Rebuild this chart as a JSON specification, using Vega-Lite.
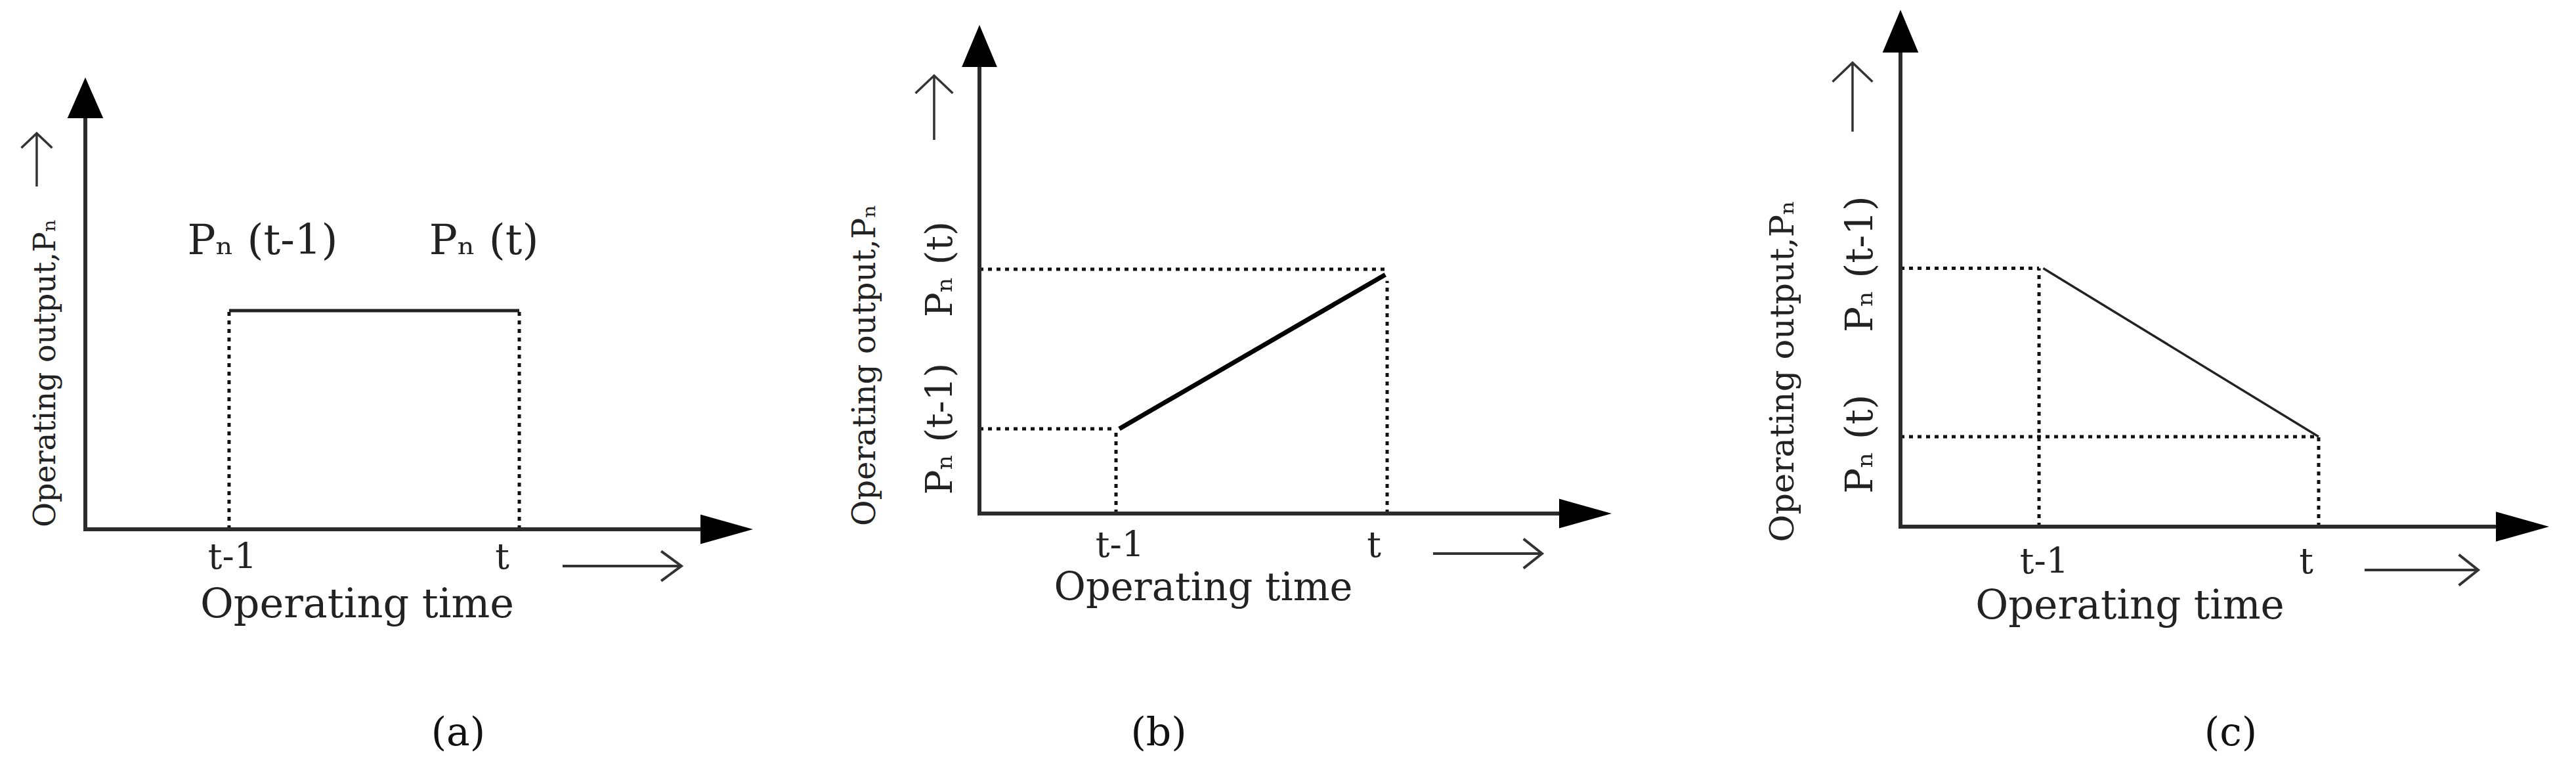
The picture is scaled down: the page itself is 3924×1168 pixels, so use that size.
{
  "$schema": "https://vega.github.io/schema/vega-lite/v6.json",
  "background": "white",
  "padding": 0,
  "spacing": 0,
  "config": {"view": {"stroke": null}},
  "datasets": {
    "lines": [
      {"panel": "a", "role": "axis", "x": 0, "y": 0, "x2": 0, "y2": 95},
      {"panel": "a", "role": "axis", "x": 0, "y": 0, "x2": 95, "y2": 0},
      {"panel": "a", "role": "solid", "x": 21.53, "y": 48.4, "x2": 65.0, "y2": 48.4},
      {"panel": "a", "role": "dotted", "x": 21.53, "y": 0, "x2": 21.53, "y2": 48.4},
      {"panel": "a", "role": "dotted", "x": 65.0, "y": 0, "x2": 65.0, "y2": 48.4},
      {"panel": "b", "role": "axis", "x": 0, "y": 0, "x2": 0, "y2": 95},
      {"panel": "b", "role": "axis", "x": 0, "y": 0, "x2": 95, "y2": 0},
      {"panel": "b", "role": "solid", "x": 22.12, "y": 17.34, "x2": 64.2, "y2": 48.9},
      {"panel": "b", "role": "dotted", "x": 0, "y": 50.0, "x2": 64.2, "y2": 50.0},
      {"panel": "b", "role": "dotted", "x": 0, "y": 17.34, "x2": 21.6, "y2": 17.34},
      {"panel": "b", "role": "dotted", "x": 21.6, "y": 0, "x2": 21.6, "y2": 17.34},
      {"panel": "b", "role": "dotted", "x": 64.49, "y": 0, "x2": 64.49, "y2": 47.6},
      {"panel": "c", "role": "axis", "x": 0, "y": 0, "x2": 0, "y2": 95},
      {"panel": "c", "role": "axis", "x": 0, "y": 0, "x2": 95, "y2": 0},
      {"panel": "c", "role": "solid", "x": 22.0, "y": 50.0, "x2": 64.47, "y2": 17.41},
      {"panel": "c", "role": "dotted", "x": 0, "y": 50.0, "x2": 21.36, "y2": 50.0},
      {"panel": "c", "role": "dotted", "x": 21.36, "y": 0, "x2": 21.36, "y2": 50.0},
      {"panel": "c", "role": "dotted", "x": 0, "y": 17.41, "x2": 64.47, "y2": 17.41},
      {"panel": "c", "role": "dotted", "x": 64.47, "y": 0, "x2": 64.47, "y2": 17.41}
    ],
    "points": [
      {"panel": "a", "role": "headUp", "x": 0, "y": 100},
      {"panel": "a", "role": "headRight", "x": 100, "y": 0},
      {"panel": "a", "role": "thinUp", "x": -7.28, "y": 81.76},
      {"panel": "a", "role": "thinRight", "x": 80.38, "y": -8.14},
      {"panel": "b", "role": "headUp", "x": 0, "y": 100},
      {"panel": "b", "role": "headRight", "x": 100, "y": 0},
      {"panel": "b", "role": "thinUp", "x": -7.17, "y": 83.06},
      {"panel": "b", "role": "thinRight", "x": 80.37, "y": -8.2},
      {"panel": "c", "role": "headUp", "x": 0, "y": 100},
      {"panel": "c", "role": "headRight", "x": 100, "y": 0},
      {"panel": "c", "role": "thinUp", "x": -7.39, "y": 83.1},
      {"panel": "c", "role": "thinRight", "x": 80.31, "y": -8.39}
    ],
    "texts": [
      {"panel": "a", "role": "plabel", "text": "Pₙ (t-1)", "x": 26.55, "y": 60.9},
      {"panel": "a", "role": "plabel", "text": "Pₙ (t)", "x": 59.69, "y": 60.9},
      {"panel": "a", "role": "tick", "text": "t-1", "x": 22.03, "y": -8.72},
      {"panel": "a", "role": "tick", "text": "t", "x": 62.44, "y": -8.72},
      {"panel": "a", "role": "xtitle", "text": "Operating time", "x": 40.71, "y": -19.48},
      {"panel": "a", "role": "caption", "text": "(a)", "x": 55.85, "y": -47.8},
      {"panel": "a", "role": "ytitle", "text": "Operating output,Pₙ", "x": -5.9, "y": 34.6},
      {"panel": "b", "role": "tick", "text": "t-1", "x": 22.22, "y": -8.87},
      {"panel": "b", "role": "tick", "text": "t", "x": 62.41, "y": -8.87},
      {"panel": "b", "role": "xtitle", "text": "Operating time", "x": 35.41, "y": -17.74},
      {"panel": "b", "role": "caption", "text": "(b)", "x": 28.35, "y": -47.45},
      {"panel": "b", "role": "ylabel", "text": "Pₙ (t)", "x": -6.13, "y": 50.0},
      {"panel": "b", "role": "ylabel", "text": "Pₙ (t-1)", "x": -6.13, "y": 17.34},
      {"panel": "b", "role": "ytitle", "text": "Operating output,Pₙ", "x": -17.96, "y": 30.38},
      {"panel": "c", "role": "tick", "text": "t-1", "x": 22.17, "y": -9.02},
      {"panel": "c", "role": "tick", "text": "t", "x": 62.55, "y": -9.02},
      {"panel": "c", "role": "xtitle", "text": "Operating time", "x": 35.37, "y": -17.79},
      {"panel": "c", "role": "caption", "text": "(c)", "x": 50.91, "y": -42.31},
      {"panel": "c", "role": "ylabel", "text": "Pₙ (t-1)", "x": -6.07, "y": 50.8},
      {"panel": "c", "role": "ylabel", "text": "Pₙ (t)", "x": -6.07, "y": 16.0},
      {"panel": "c", "role": "ytitle", "text": "Operating output,Pₙ", "x": -18.02, "y": 30.1}
    ]
  },
  "hconcat": [
    {
      "width": 1250,
      "height": 1168,
      "encoding": {
        "x": {"field": "x", "type": "quantitative", "scale": {"domain": [-12.78, 110.13], "nice": false, "zero": false}, "axis": null},
        "y": {"field": "y", "type": "quantitative", "scale": {"domain": [-52.62, 117.15], "nice": false, "zero": false}, "axis": null}
      },
      "layer": [
        {"data": {"name": "lines"}, "transform": [{"filter": "datum.panel == 'a' && datum.role == 'dotted'"}], "mark": {"type": "rule", "strokeWidth": 5, "strokeDash": [6, 7], "color": "#111111"}, "encoding": {"x2": {"field": "x2"}, "y2": {"field": "y2"}}},
        {"data": {"name": "lines"}, "transform": [{"filter": "datum.panel == 'a' && datum.role == 'axis'"}], "mark": {"type": "rule", "strokeWidth": 6, "strokeCap": "square", "color": "#2b2b2b"}, "encoding": {"x2": {"field": "x2"}, "y2": {"field": "y2"}}},
        {"data": {"name": "lines"}, "transform": [{"filter": "datum.panel == 'a' && datum.role == 'solid'"}], "mark": {"type": "rule", "strokeWidth": 5, "color": "#222222"}, "encoding": {"x2": {"field": "x2"}, "y2": {"field": "y2"}}},
        {"data": {"name": "points"}, "transform": [{"filter": "datum.panel == 'a' && datum.role == 'headUp'"}], "mark": {"type": "point", "shape": "M0,0L-0.44,1L0.44,1Z", "size": 15376, "filled": true, "opacity": 1, "color": "#000000", "strokeWidth": 0}},
        {"data": {"name": "points"}, "transform": [{"filter": "datum.panel == 'a' && datum.role == 'headRight'"}], "mark": {"type": "point", "shape": "M0,0L-1,-0.28L-1,0.28Z", "size": 25600, "filled": true, "opacity": 1, "color": "#000000", "strokeWidth": 0}},
        {"data": {"name": "points"}, "transform": [{"filter": "datum.panel == 'a' && datum.role == 'thinUp'"}], "mark": {"type": "point", "shape": "M0,1L0,-1M-0.58,-0.45L0,-1L0.58,-0.45", "size": 6561, "filled": false, "opacity": 1, "color": "#333333", "strokeWidth": 3.5}},
        {"data": {"name": "points"}, "transform": [{"filter": "datum.panel == 'a' && datum.role == 'thinRight'"}], "mark": {"type": "point", "shape": "M-1,0L1,0M0.66,-0.25L1,0L0.66,0.25", "size": 32761, "filled": false, "opacity": 1, "color": "#333333", "strokeWidth": 4}},
        {"data": {"name": "texts"}, "transform": [{"filter": "datum.panel == 'a' && datum.role == 'plabel'"}], "mark": {"type": "text", "font": "DejaVu Serif", "fontSize": 64, "align": "center", "baseline": "alphabetic", "color": "#222222"}, "encoding": {"text": {"field": "text"}}},
        {"data": {"name": "texts"}, "transform": [{"filter": "datum.panel == 'a' && datum.role == 'tick'"}], "mark": {"type": "text", "font": "DejaVu Serif", "fontSize": 54, "align": "center", "baseline": "alphabetic", "color": "#222222"}, "encoding": {"text": {"field": "text"}}},
        {"data": {"name": "texts"}, "transform": [{"filter": "datum.panel == 'a' && datum.role == 'xtitle'"}], "mark": {"type": "text", "font": "DejaVu Serif", "fontSize": 62, "align": "center", "baseline": "alphabetic", "color": "#222222"}, "encoding": {"text": {"field": "text"}}},
        {"data": {"name": "texts"}, "transform": [{"filter": "datum.panel == 'a' && datum.role == 'caption'"}], "mark": {"type": "text", "font": "DejaVu Serif", "fontSize": 60, "align": "center", "baseline": "alphabetic", "color": "#111111"}, "encoding": {"text": {"field": "text"}}},
        {"data": {"name": "texts"}, "transform": [{"filter": "datum.panel == 'a' && datum.role == 'ytitle'"}], "mark": {"type": "text", "font": "DejaVu Serif", "fontSize": 46, "angle": 270, "align": "center", "baseline": "middle", "color": "#222222"}, "encoding": {"text": {"field": "text"}}}
      ]
    },
    {
      "width": 1330,
      "height": 1168,
      "encoding": {
        "x": {"field": "x", "type": "quantitative", "scale": {"domain": [-25.13, 112.98], "nice": false, "zero": false}, "axis": null},
        "y": {"field": "y", "type": "quantitative", "scale": {"domain": [-51.88, 105.11], "nice": false, "zero": false}, "axis": null}
      },
      "layer": [
        {"data": {"name": "lines"}, "transform": [{"filter": "datum.panel == 'b' && datum.role == 'dotted'"}], "mark": {"type": "rule", "strokeWidth": 5, "strokeDash": [6, 7], "color": "#111111"}, "encoding": {"x2": {"field": "x2"}, "y2": {"field": "y2"}}},
        {"data": {"name": "lines"}, "transform": [{"filter": "datum.panel == 'b' && datum.role == 'axis'"}], "mark": {"type": "rule", "strokeWidth": 6, "strokeCap": "square", "color": "#2b2b2b"}, "encoding": {"x2": {"field": "x2"}, "y2": {"field": "y2"}}},
        {"data": {"name": "lines"}, "transform": [{"filter": "datum.panel == 'b' && datum.role == 'solid'"}], "mark": {"type": "rule", "strokeWidth": 7, "color": "#000000"}, "encoding": {"x2": {"field": "x2"}, "y2": {"field": "y2"}}},
        {"data": {"name": "points"}, "transform": [{"filter": "datum.panel == 'b' && datum.role == 'headUp'"}], "mark": {"type": "point", "shape": "M0,0L-0.42,1L0.42,1Z", "size": 16384, "filled": true, "opacity": 1, "color": "#000000", "strokeWidth": 0}},
        {"data": {"name": "points"}, "transform": [{"filter": "datum.panel == 'b' && datum.role == 'headRight'"}], "mark": {"type": "point", "shape": "M0,0L-1,-0.28L-1,0.28Z", "size": 25600, "filled": true, "opacity": 1, "color": "#000000", "strokeWidth": 0}},
        {"data": {"name": "points"}, "transform": [{"filter": "datum.panel == 'b' && datum.role == 'thinUp'"}], "mark": {"type": "point", "shape": "M0,1L0,-1M-0.58,-0.45L0,-1L0.58,-0.45", "size": 9604, "filled": false, "opacity": 1, "color": "#333333", "strokeWidth": 3.5}},
        {"data": {"name": "points"}, "transform": [{"filter": "datum.panel == 'b' && datum.role == 'thinRight'"}], "mark": {"type": "point", "shape": "M-1,0L1,0M0.66,-0.27L1,0L0.66,0.27", "size": 27556, "filled": false, "opacity": 1, "color": "#333333", "strokeWidth": 4}},
        {"data": {"name": "texts"}, "transform": [{"filter": "datum.panel == 'b' && datum.role == 'tick'"}], "mark": {"type": "text", "font": "DejaVu Serif", "fontSize": 54, "align": "center", "baseline": "alphabetic", "color": "#222222"}, "encoding": {"text": {"field": "text"}}},
        {"data": {"name": "texts"}, "transform": [{"filter": "datum.panel == 'b' && datum.role == 'xtitle'"}], "mark": {"type": "text", "font": "DejaVu Serif", "fontSize": 59, "align": "center", "baseline": "alphabetic", "color": "#222222"}, "encoding": {"text": {"field": "text"}}},
        {"data": {"name": "texts"}, "transform": [{"filter": "datum.panel == 'b' && datum.role == 'caption'"}], "mark": {"type": "text", "font": "DejaVu Serif", "fontSize": 60, "align": "center", "baseline": "alphabetic", "color": "#111111"}, "encoding": {"text": {"field": "text"}}},
        {"data": {"name": "texts"}, "transform": [{"filter": "datum.panel == 'b' && datum.role == 'ylabel'"}], "mark": {"type": "text", "font": "DejaVu Serif", "fontSize": 56, "angle": 270, "align": "center", "baseline": "middle", "color": "#222222"}, "encoding": {"text": {"field": "text"}}},
        {"data": {"name": "texts"}, "transform": [{"filter": "datum.panel == 'b' && datum.role == 'ytitle'"}], "mark": {"type": "text", "font": "DejaVu Serif", "fontSize": 48, "angle": 270, "align": "center", "baseline": "middle", "color": "#222222"}, "encoding": {"text": {"field": "text"}}}
      ]
    },
    {
      "width": 1344,
      "height": 1168,
      "encoding": {
        "x": {"field": "x", "type": "quantitative", "scale": {"domain": [-31.88, 104.15], "nice": false, "zero": false}, "axis": null},
        "y": {"field": "y", "type": "quantitative", "scale": {"domain": [-46.51, 101.91], "nice": false, "zero": false}, "axis": null}
      },
      "layer": [
        {"data": {"name": "lines"}, "transform": [{"filter": "datum.panel == 'c' && datum.role == 'dotted'"}], "mark": {"type": "rule", "strokeWidth": 5, "strokeDash": [6, 7], "color": "#111111"}, "encoding": {"x2": {"field": "x2"}, "y2": {"field": "y2"}}},
        {"data": {"name": "lines"}, "transform": [{"filter": "datum.panel == 'c' && datum.role == 'axis'"}], "mark": {"type": "rule", "strokeWidth": 6, "strokeCap": "square", "color": "#2b2b2b"}, "encoding": {"x2": {"field": "x2"}, "y2": {"field": "y2"}}},
        {"data": {"name": "lines"}, "transform": [{"filter": "datum.panel == 'c' && datum.role == 'solid'"}], "mark": {"type": "rule", "strokeWidth": 3.5, "color": "#222222"}, "encoding": {"x2": {"field": "x2"}, "y2": {"field": "y2"}}},
        {"data": {"name": "points"}, "transform": [{"filter": "datum.panel == 'c' && datum.role == 'headUp'"}], "mark": {"type": "point", "shape": "M0,0L-0.42,1L0.42,1Z", "size": 16900, "filled": true, "opacity": 1, "color": "#000000", "strokeWidth": 0}},
        {"data": {"name": "points"}, "transform": [{"filter": "datum.panel == 'c' && datum.role == 'headRight'"}], "mark": {"type": "point", "shape": "M0,0L-1,-0.28L-1,0.28Z", "size": 26244, "filled": true, "opacity": 1, "color": "#000000", "strokeWidth": 0}},
        {"data": {"name": "points"}, "transform": [{"filter": "datum.panel == 'c' && datum.role == 'thinUp'"}], "mark": {"type": "point", "shape": "M0,1L0,-1M-0.58,-0.45L0,-1L0.58,-0.45", "size": 11025, "filled": false, "opacity": 1, "color": "#333333", "strokeWidth": 3.5}},
        {"data": {"name": "points"}, "transform": [{"filter": "datum.panel == 'c' && datum.role == 'thinRight'"}], "mark": {"type": "point", "shape": "M-1,0L1,0M0.66,-0.27L1,0L0.66,0.27", "size": 29929, "filled": false, "opacity": 1, "color": "#333333", "strokeWidth": 4}},
        {"data": {"name": "texts"}, "transform": [{"filter": "datum.panel == 'c' && datum.role == 'tick'"}], "mark": {"type": "text", "font": "DejaVu Serif", "fontSize": 54, "align": "center", "baseline": "alphabetic", "color": "#222222"}, "encoding": {"text": {"field": "text"}}},
        {"data": {"name": "texts"}, "transform": [{"filter": "datum.panel == 'c' && datum.role == 'xtitle'"}], "mark": {"type": "text", "font": "DejaVu Serif", "fontSize": 61, "align": "center", "baseline": "alphabetic", "color": "#222222"}, "encoding": {"text": {"field": "text"}}},
        {"data": {"name": "texts"}, "transform": [{"filter": "datum.panel == 'c' && datum.role == 'caption'"}], "mark": {"type": "text", "font": "DejaVu Serif", "fontSize": 60, "align": "center", "baseline": "alphabetic", "color": "#111111"}, "encoding": {"text": {"field": "text"}}},
        {"data": {"name": "texts"}, "transform": [{"filter": "datum.panel == 'c' && datum.role == 'ylabel'"}], "mark": {"type": "text", "font": "DejaVu Serif", "fontSize": 58, "angle": 270, "align": "center", "baseline": "middle", "color": "#222222"}, "encoding": {"text": {"field": "text"}}},
        {"data": {"name": "texts"}, "transform": [{"filter": "datum.panel == 'c' && datum.role == 'ytitle'"}], "mark": {"type": "text", "font": "DejaVu Serif", "fontSize": 51, "angle": 270, "align": "center", "baseline": "middle", "color": "#222222"}, "encoding": {"text": {"field": "text"}}}
      ]
    }
  ]
}
